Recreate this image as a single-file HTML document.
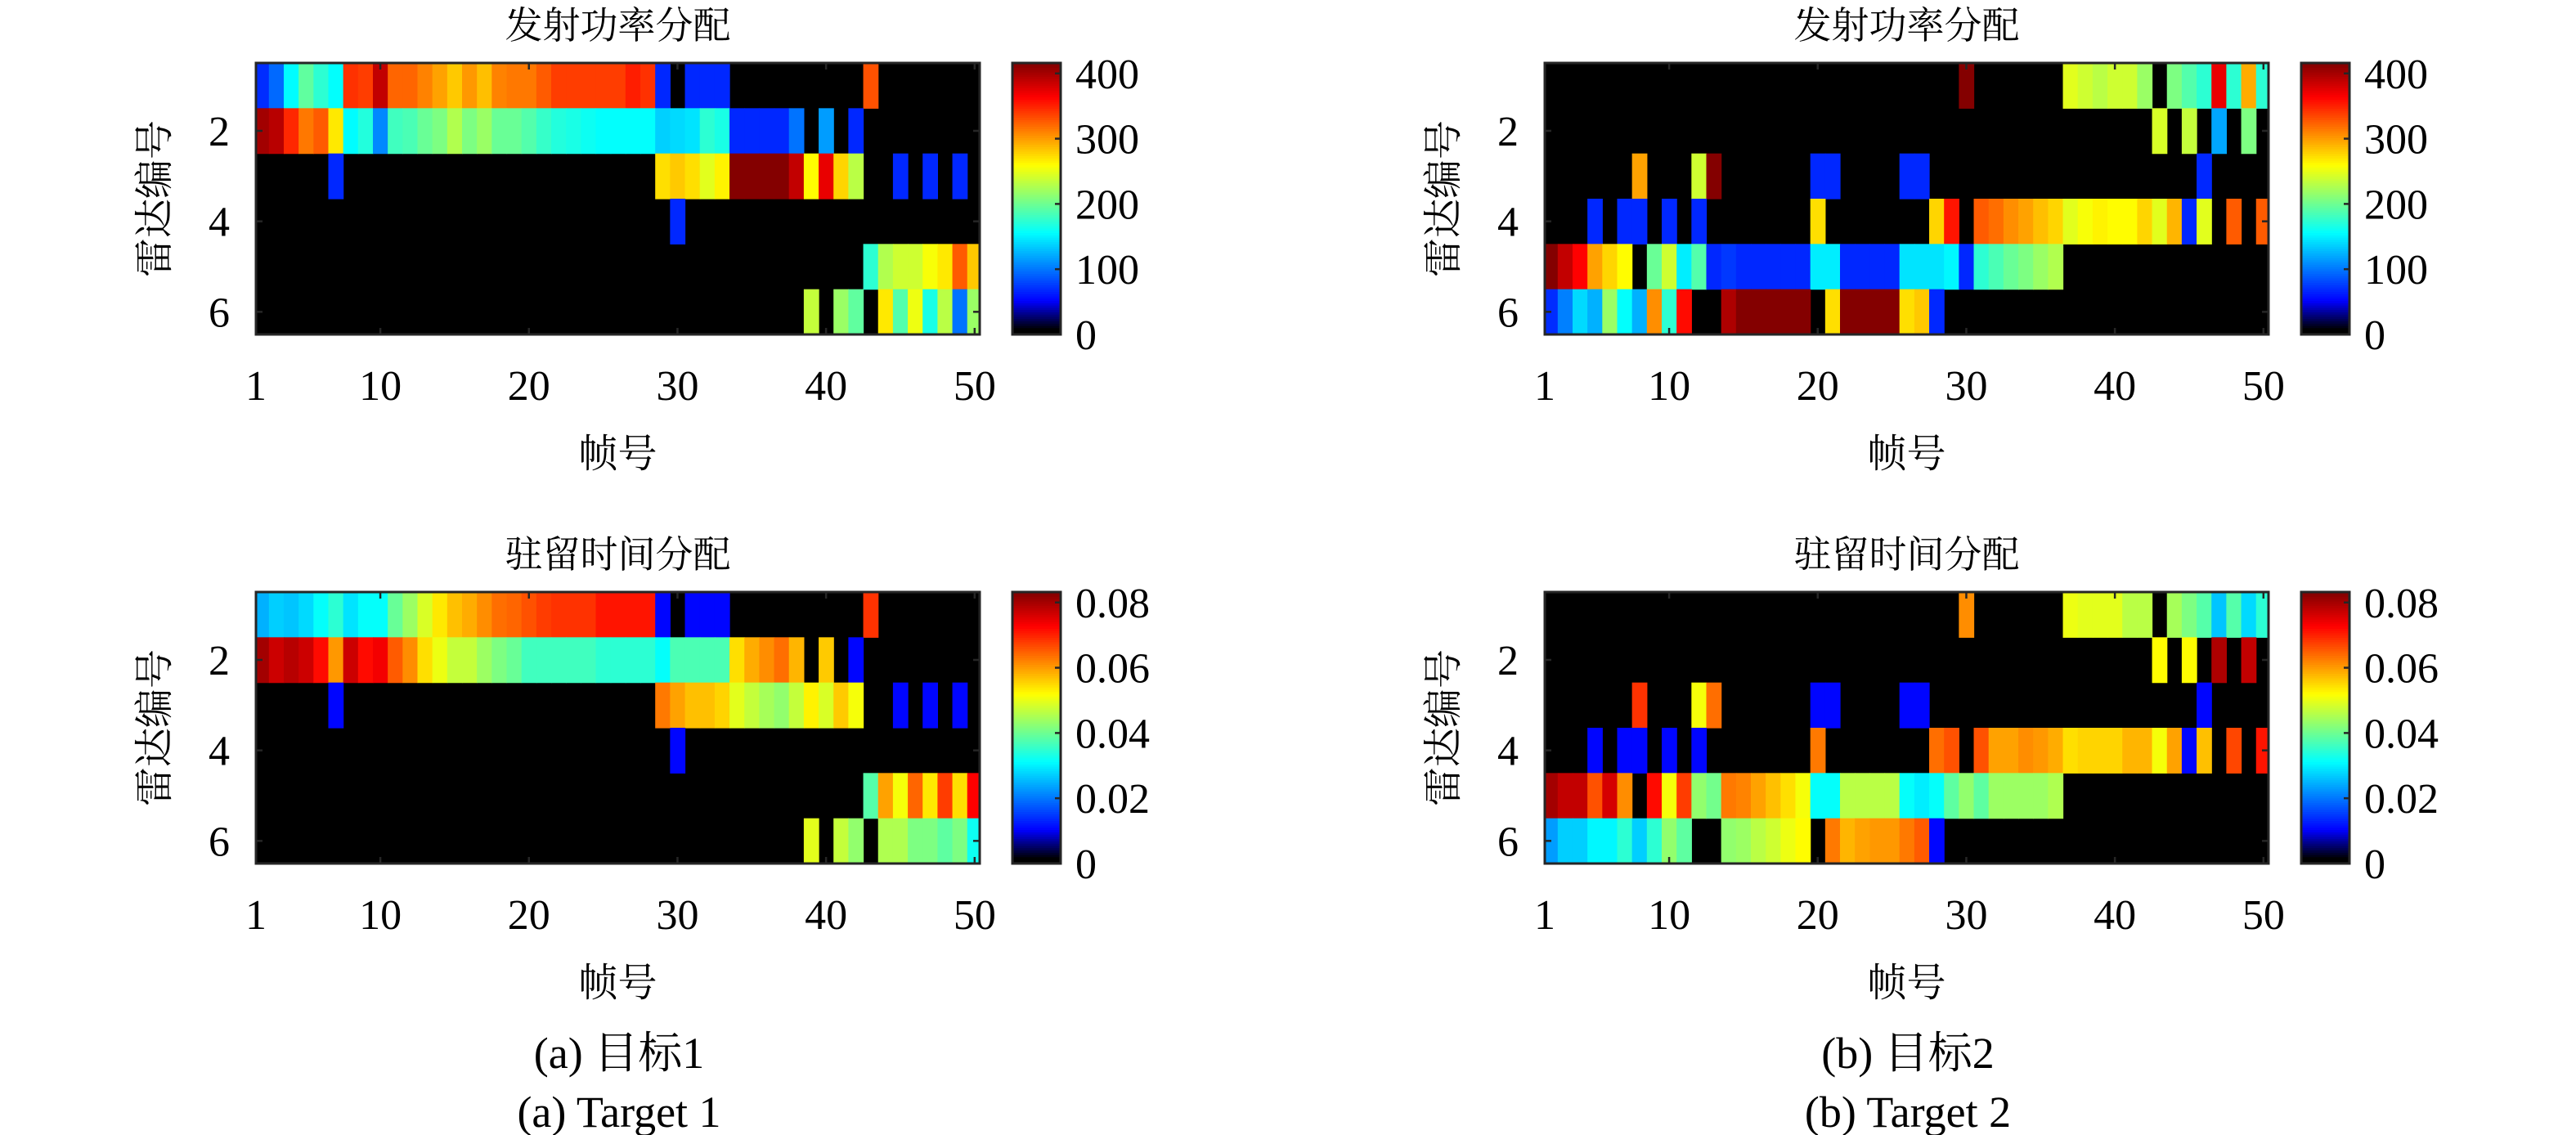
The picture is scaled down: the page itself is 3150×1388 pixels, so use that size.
<!DOCTYPE html>
<html><head><meta charset="utf-8">
<style>
html,body{margin:0;padding:0;background:#fff;}
svg{display:block;}
text{fill:#000;}
.num{font-family:"Liberation Serif","Noto Serif CJK SC",serif;}
.cjk{font-family:"Liberation Serif","Noto Serif CJK SC","Noto Sans CJK SC",serif;}
</style></head>
<body>
<svg id="fig" width="3150" height="1388" viewBox="0 0 3150 1388" xmlns="http://www.w3.org/2000/svg"></svg>
<script>
// ---- data (row 1..6 = radar index, 50 frames each) ----
const frames = Array.from({length:50},(_,i)=>i+1);
const xTickLabels = [1,10,20,30,40,50];
const yTickLabels = [2,4,6];
const powerTicks = [0,100,200,300,400];
const timeTicks = [0,0.02,0.04,0.06,0.08];
const timeTickLabels = ["0","0.02","0.04","0.06","0.08"];

const powerT1 = [
 [70,70,95,155,195,174,157,344,339,389,323,323,311,298,282,302,286,311,315,315,327,339,339,339,339,339,352,344,68,0,68,68,68,0,0,0,0,0,0,0,0,0,331,0,0,0,0,0,0,0],
 [402,402,393,348,315,327,269,155,170,108,182,186,199,207,228,207,219,199,199,190,178,170,166,161,157,157,157,157,137,141,145,174,166,68,68,68,68,99,0,116,0,68,0,0,0,0,0,0,0,0],
 [0,0,0,0,0,0,68,0,0,0,0,0,0,0,0,0,0,0,0,0,0,0,0,0,0,0,0,0,273,282,273,248,265,414,414,414,414,389,261,373,277,232,0,0,68,0,68,0,68,0],
 [0,0,0,0,0,0,0,0,0,0,0,0,0,0,0,0,0,0,0,0,0,0,0,0,0,0,0,0,0,68,0,0,0,0,0,0,0,0,0,0,0,0,0,0,0,0,0,0,0,0],
 [0,0,0,0,0,0,0,0,0,0,0,0,0,0,0,0,0,0,0,0,0,0,0,0,0,0,0,0,0,0,0,0,0,0,0,0,0,0,0,0,0,0,174,228,240,240,257,269,327,282],
 [0,0,0,0,0,0,0,0,0,0,0,0,0,0,0,0,0,0,0,0,0,0,0,0,0,0,0,0,0,0,0,0,0,0,0,0,0,0,236,0,219,195,0,269,190,253,166,232,99,219]
];
const powerT2 = [
 [0,0,0,0,0,0,0,0,0,0,0,0,0,0,0,0,0,0,0,0,0,0,0,0,0,0,0,0,0,414,0,0,0,0,0,0,248,240,232,240,240,219,0,207,190,174,373,174,294,174],
 [0,0,0,0,0,0,0,0,0,0,0,0,0,0,0,0,0,0,0,0,0,0,0,0,0,0,0,0,0,0,0,0,0,0,0,0,0,0,0,0,0,0,244,0,236,0,120,0,207,0],
 [0,0,0,0,0,0,0,298,0,0,0,240,414,0,0,0,0,0,0,68,68,0,0,0,0,68,68,0,0,0,0,0,0,0,0,0,0,0,0,0,0,0,0,0,0,68,0,0,0,0],
 [0,0,0,0,68,0,68,68,0,68,0,68,0,0,0,0,0,0,0,273,0,0,0,0,0,0,0,277,356,0,327,319,306,298,286,277,248,257,265,261,261,277,248,290,68,248,0,327,0,327],
 [414,414,389,364,298,277,261,0,199,240,149,190,68,75,68,68,68,68,68,149,149,68,68,68,68,145,145,145,153,68,174,186,199,207,219,228,0,0,0,0,0,0,0,0,0,0,0,0,0,0],
 [70,70,104,141,124,219,157,124,306,174,360,0,0,397,414,414,414,414,414,0,273,414,414,414,414,273,282,68,0,0,0,0,0,0,0,0,0,0,0,0,0,0,0,0,0,0,0,0,0,0]
];
const timeT1 = [
 [.0248,.0248,.0273,.0265,.0282,.0315,.0348,.029,.0315,.0315,.0397,.0439,.0489,.0538,.0571,.0588,.0613,.0638,.0646,.0662,.0679,.0687,.0687,.0687,.0712,.0712,.0712,.0712,.0108,0,.0108,.0108,.0108,0,0,0,0,0,0,0,0,0,.0687,0,0,0,0,0,0,0],
 [.0803,.0803,.077,.0787,.077,.072,.0604,.077,.072,.0737,.0654,.0613,.0546,.0505,.0472,.0472,.0439,.0414,.0397,.0364,.0364,.0364,.0364,.0364,.0348,.0348,.0348,.0348,.0315,.0373,.0373,.0373,.0373,.0546,.0588,.0613,.0638,.058,0,.0563,0,.0108,0,0,0,0,0,0,0,0],
 [0,0,0,0,0,0,.0108,0,0,0,0,0,0,0,0,0,0,0,0,0,0,0,0,0,0,0,0,0,.0629,.0596,.0571,.0571,.0555,.0497,.0472,.0447,.0431,.0472,.053,.0489,.0563,.0513,0,0,.0108,0,.0108,0,.0108,0],
 [0,0,0,0,0,0,0,0,0,0,0,0,0,0,0,0,0,0,0,0,0,0,0,0,0,0,0,0,0,.0108,0,0,0,0,0,0,0,0,0,0,0,0,0,0,0,0,0,0,0,0],
 [0,0,0,0,0,0,0,0,0,0,0,0,0,0,0,0,0,0,0,0,0,0,0,0,0,0,0,0,0,0,0,0,0,0,0,0,0,0,0,0,0,0,.0381,.0596,.0513,.0646,.0538,.0679,.0546,.0729],
 [0,0,0,0,0,0,0,0,0,0,0,0,0,0,0,0,0,0,0,0,0,0,0,0,0,0,0,0,0,0,0,0,0,0,0,0,0,0,.0497,0,.0472,.0431,0,.0455,.0455,.0414,.0414,.0389,.0414,.0323]
];
const timeT2 = [
 [0,0,0,0,0,0,0,0,0,0,0,0,0,0,0,0,0,0,0,0,0,0,0,0,0,0,0,0,0,.0613,0,0,0,0,0,0,.0505,.0497,.0497,.0497,.0464,.0464,0,.0447,.0414,.0381,.0265,.0381,.0282,.0348],
 [0,0,0,0,0,0,0,0,0,0,0,0,0,0,0,0,0,0,0,0,0,0,0,0,0,0,0,0,0,0,0,0,0,0,0,0,0,0,0,0,0,0,.0522,0,.0522,0,.0795,0,.0778,0],
 [0,0,0,0,0,0,0,.0687,0,0,0,.0513,.0638,0,0,0,0,0,0,.0108,.0108,0,0,0,0,.0108,.0108,0,0,0,0,0,0,0,0,0,0,0,0,0,0,0,0,0,0,.0108,0,0,0,0],
 [0,0,0,0,.0108,0,.0108,.0108,0,.0108,0,.0108,0,0,0,0,0,0,0,.0629,0,0,0,0,0,0,0,.0638,.0662,0,.0662,.0596,.0596,.0613,.0604,.0588,.0546,.0555,.0555,.0555,.058,.058,.0513,.0596,.0108,.0571,0,.0671,0,.0712],
 [.0803,.0803,.0778,.0778,.0662,.0762,.0613,0,.072,.0513,.0679,.0431,.0406,.0629,.0621,.0596,.0571,.0546,.0513,.0315,.0315,.0464,.0464,.0464,.0464,.0315,.0298,.0315,.0389,.0431,.0389,.0439,.0439,.0439,.0439,.0455,0,0,0,0,0,0,0,0,0,0,0,0,0,0],
 [.0232,.0232,.0273,.0273,.0306,.0306,.0348,.0273,.0348,.0431,.0389,0,0,.0431,.0439,.0464,.048,.0505,.0522,0,.0629,.058,.0596,.0604,.0604,.0629,.0654,.0108,0,0,0,0,0,0,0,0,0,0,0,0,0,0,0,0,0,0,0,0,0,0]
];

// ---- rendering ----
const NS = "http://www.w3.org/2000/svg";
const svg = document.getElementById('fig');
function mk(tag, attrs, parent){
  const e = document.createElementNS(NS, tag);
  for (const k in attrs) e.setAttribute(k, attrs[k]);
  (parent||svg).appendChild(e);
  return e;
}
function jet(f){
  f = Math.max(0, Math.min(1, f));
  const c = v => Math.max(0, Math.min(1, v));
  let r = c(1.5 - Math.abs(4*f - 3));
  let g = c(1.5 - Math.abs(4*f - 2));
  let b = c(1.5 - Math.abs(4*f - 1));
  if (f < 0.125) { b = Math.max(0, (f - 0.02) / 0.105); }
  return `rgb(${Math.round(r*255)},${Math.round(g*255)},${Math.round(b*255)})`;
}

const X0 = 1.63, X1 = 50.34;
function panel(opts){
  const {ox, oy, data, cmax, title, ticks, tickLabels, key} = opts;
  const L = 313 + ox, R = 1198 + ox, T = 77 + oy, B = 409 + oy;
  const xs = v => L + (v - X0) / (X1 - X0) * (R - L);
  const ys = v => T + (v - 0.5) / 6 * (B - T);
  const g = mk('g', {});
  
  
  const clipId = 'clip-' + key;
  const cp = mk('clipPath', {id: clipId}, g);
  mk('rect', {x: L, y: T, width: R - L, height: B - T}, cp);
  const hm = mk('g', {'clip-path': `url(#${clipId})`}, g);
  
  
  mk('rect', {x: L, y: T, width: R - L, height: B - T, fill: '#000'}, hm);
  data.forEach((row, ri) => {
    row.forEach((v, ci) => {
      if (v <= 0) return;
      const fr = frames[ci];
      const x0 = xs(fr - 0.5), x1 = xs(fr + 0.5);
      const y0 = ys(ri + 0.5), y1 = ys(ri + 1.5);
      const r = mk('rect', {x: x0.toFixed(2), y: y0.toFixed(2), width: (x1 - x0 + 0.6).toFixed(2), height: (y1 - y0 + 0.6).toFixed(2), fill: jet(v / cmax)}, hm);
      
      
    });
  });
  xTickLabels.forEach(t => {
    const x = t < X0 ? L : xs(t);
    if (t >= X0) {
      mk('line', {x1: x, x2: x, y1: B, y2: B - 8, stroke: '#262626', 'stroke-width': 2.5}, g);
      mk('line', {x1: x, x2: x, y1: T, y2: T + 8, stroke: '#262626', 'stroke-width': 2.5}, g);
    }
    const tx = mk('text', {x: x, y: B + 80, 'text-anchor': 'middle', 'font-size': 52, class: 'num'}, g);
    tx.textContent = t;
    
    
  });
  yTickLabels.forEach(t => {
    const y = ys(t);
    mk('line', {x1: L, x2: L + 8, y1: y, y2: y, stroke: '#262626', 'stroke-width': 2.5}, g);
    mk('line', {x1: R, x2: R - 8, y1: y, y2: y, stroke: '#262626', 'stroke-width': 2.5}, g);
    const tx = mk('text', {x: L - 32, y: y + 18, 'text-anchor': 'end', 'font-size': 52, class: 'num'}, g);
    tx.textContent = t;
    
    
  });
  const frame = mk('rect', {x: L, y: T, width: R - L, height: B - T, fill: 'none', stroke: '#262626', 'stroke-width': 3}, g);
  
  
  const tt = mk('text', {x: (L + R) / 2, y: T - 30, 'text-anchor': 'middle', 'font-size': 46, class: 'cjk'}, g);
  tt.textContent = title;
  
  
  const xl = mk('text', {x: (L + R) / 2, y: B + 162, 'text-anchor': 'middle', 'font-size': 48, class: 'cjk'}, g);
  xl.textContent = '帧号';
  
  
  const cy = (T + B) / 2, cx = 205 + ox;
  const yl = mk('text', {x: cx, y: cy, 'text-anchor': 'middle', 'font-size': 48, class: 'cjk', transform: `rotate(-90 ${cx} ${cy})`}, g);
  yl.textContent = '雷达编号';
  
  
  const CL = 1238 + ox, CR = 1297 + ox;
  const cbMax = cmax;
  const cs = v => B - v / cbMax * (B - T);
  const cb = mk('g', {}, g);
  
  
  const N = 120;
  for (let i = 0; i < N; i++) {
    const y0 = B - (i + 1) / N * (B - T), h = (B - T) / N + 0.6;
    mk('rect', {x: CL, y: y0, width: CR - CL, height: h, fill: jet((i + 0.5) / N)}, cb);
  }
  mk('rect', {x: CL, y: T, width: CR - CL, height: B - T, fill: 'none', stroke: '#262626', 'stroke-width': 3}, cb);
  ticks.forEach((t, i) => {
    const y = cs(t);
    mk('line', {x1: CR, x2: CR - 7, y1: y, y2: y, stroke: '#262626', 'stroke-width': 2.5}, cb);
    const tx = mk('text', {x: CR + 18, y: y + 18, 'font-size': 52, class: 'num'}, cb);
    tx.textContent = tickLabels[i];
    
    
  });
}

const DX = 1576, DY = 647;
panel({ox: 0, oy: 0, data: powerT1, cmax: 416, title: '发射功率分配', ticks: powerTicks, tickLabels: powerTicks.map(String), key: 'power-target1'});
panel({ox: DX, oy: 0, data: powerT2, cmax: 416, title: '发射功率分配', ticks: powerTicks, tickLabels: powerTicks.map(String), key: 'power-target2'});
panel({ox: 0, oy: DY, data: timeT1, cmax: 0.0832, title: '驻留时间分配', ticks: timeTicks, tickLabels: timeTickLabels, key: 'time-target1'});
panel({ox: DX, oy: DY, data: timeT2, cmax: 0.0832, title: '驻留时间分配', ticks: timeTicks, tickLabels: timeTickLabels, key: 'time-target2'});

const caps = [[757, 1306, '(a) 目标1', 'caption-a-cn'], [757, 1378, '(a) Target 1', 'caption-a-en'],
              [757 + DX, 1306, '(b) 目标2', 'caption-b-cn'], [757 + DX, 1378, '(b) Target 2', 'caption-b-en']];
caps.forEach(c => {
  const t = mk('text', {x: c[0], y: c[1], 'text-anchor': 'middle', 'font-size': 54, class: 'cjk'});
  t.textContent = c[2];
  
  
});
</script>
</body></html>
